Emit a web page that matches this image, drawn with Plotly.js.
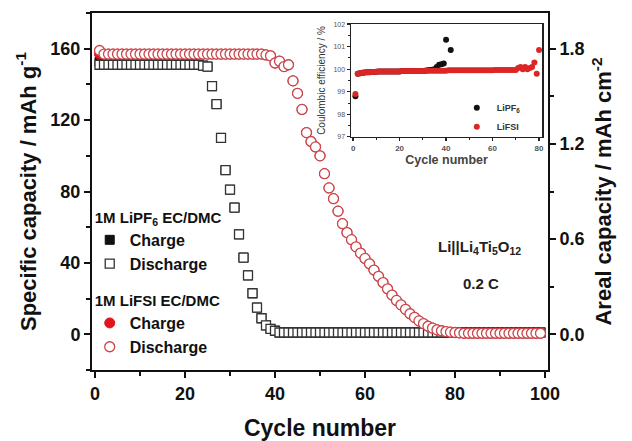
<!DOCTYPE html>
<html>
<head>
<meta charset="utf-8">
<script src="https://cdn.plot.ly/plotly-3.0.1.min.js"></script>
<style>html,body{margin:0;padding:0;background:#fff;}#chart{width:632px;height:441px;}</style>
</head>
<body>
<div id="chart"></div>
<script>
// ---- Main chart data (cycle number vs specific capacity, mAh/g) ----
const cycles = [1,2,3,4,5,6,7,8,9,10,11,12,13,14,15,16,17,18,19,20,21,22,23,24,25,26,27,28,29,30,31,32,33,34,35,36,37,38,39,40,41,42,43,44,45,46,47,48,49,50,51,52,53,54,55,56,57,58,59,60,61,62,63,64,65,66,67,68,69,70,71,72,73,74,75,76,77,78,79,80,81,82,83,84,85,86,87,88,89,90,91,92,93,94,95,96,97,98,99];

const pf6Charge = [152.5,151,151,151,151,151,151,151,151,151,151,151,151,151,151,151,151,151,151,151,151,151,151,150.5,150,139,129,110,92,81,71,56,43,33,23,15,9,5,3,2,1,1,1,1,1,1,1,1,1,1,1,1,1,1,1,1,1,1,1,1,1,1,1,1,1,1,1,1,1,1,1,1,1,1,1,1,1,1,1,1,1,1,1,1,1,1,1,1,1,1,1,1,1,1,1,1,1,1,1];
const pf6Discharge = [151,151,151,151,151,151,151,151,151,151,151,151,151,151,151,151,151,151,151,151,151,151,151,150.5,150,139,129,110,92,81,71,56,43,33,23,15,9,5,3,2,1,1,1,1,1,1,1,1,1,1,1,1,1,1,1,1,1,1,1,1,1,1,1,1,1,1,1,1,1,1,1,1,1,1,1,1,1,1,1,1,1,1,1,1,1,1,1,1,1,1,1,1,1,1,1,1,1,1,1];

const fsiCharge = [157,157,157,157,157,157,157,157,157,157,157,157,157,157,157,157,157,157,157,157,157,157,157,157,157,157,157,157,157,157,157,157,157,157,157,157,157,156.5,156,152,153,150,151,142,135,126,113,108,105,100,90,82,76,69,62,57,53,49,45.5,42.5,39.5,36,32.5,29,25.5,22,19,16.5,14,11.5,9.5,7.5,6,4.5,3.5,2.5,2,1.5,1.2,1,0.8,0.6,0.6,0.6,0.6,0.6,0.6,0.6,0.6,0.6,0.6,0.6,0.6,0.6,0.6,0.6,0.6,0.6,0.6];
const fsiDischarge = [159,157,157,157,157,157,157,157,157,157,157,157,157,157,157,157,157,157,157,157,157,157,157,157,157,157,157,157,157,157,157,157,157,157,157,157,157,156.5,156,152,153,150,151,142,135,126,113,108,105,100,90,82,76,69,62,57,53,49,45.5,42.5,39.5,36,32.5,29,25.5,22,19,16.5,14,11.5,9.5,7.5,6,4.5,3.5,2.5,2,1.5,1.2,1,0.8,0.6,0.6,0.6,0.6,0.6,0.6,0.6,0.6,0.6,0.6,0.6,0.6,0.6,0.6,0.6,0.6,0.6,0.6];

// ---- Inset data (Coulombic efficiency, %) ----
const ceCyclesFsi = [1,2,3,4,5,6,7,8,9,10,11,12,13,14,15,16,17,18,19,20,21,22,23,24,25,26,27,28,29,30,31,32,33,34,35,36,37,38,39,40,41,42,43,44,45,46,47,48,49,50,51,52,53,54,55,56,57,58,59,60,61,62,63,64,65,66,67,68,69,70,71,72,73,74,75,76,77,78,79,80];
const ceFsi = [98.9,99.8,99.82,99.84,99.85,99.87,99.87,99.88,99.88,99.89,99.9,99.9,99.9,99.9,99.9,99.9,99.9,99.9,99.9,99.9,99.92,99.92,99.92,99.92,99.92,99.92,99.92,99.92,99.92,99.92,99.93,99.93,99.93,99.93,99.93,99.93,99.93,99.93,99.93,99.93,99.95,99.95,99.95,99.95,99.95,99.95,99.95,99.95,99.95,99.95,99.95,99.95,99.95,99.95,99.95,99.95,99.95,99.95,99.95,99.95,99.96,99.96,99.96,99.96,99.96,99.96,99.96,99.96,99.96,99.96,100.05,100.1,100.0,100.1,100.0,100.05,100.1,100.3,99.8,100.85];
const ceCyclesPf6 = [1,2,3,4,5,6,7,8,9,10,11,12,13,14,15,16,17,18,19,20,21,22,23,24,25,26,27,28,29,30,31,32,33,34,35,36,37,38,39,40,42];
const cePf6 = [98.8,99.8,99.82,99.84,99.85,99.86,99.87,99.88,99.88,99.89,99.9,99.9,99.9,99.9,99.9,99.9,99.9,99.9,99.9,99.9,99.92,99.92,99.92,99.92,99.92,99.92,99.92,99.92,99.92,99.92,99.93,99.95,99.96,99.98,100.0,100.1,100.2,100.22,100.25,101.3,100.85];

// ---- Tick labels ----
const xTicks = [0,20,40,60,80,100];
const yTicks = [0,40,80,120,160];
const y2Ticks = [0,0.6,1.2,1.8];
const y2TickText = ['0.0','0.6','1.2','1.8'];
const insetXTicks = [0,20,40,60,80];
const insetYTicks = [97,98,99,100,101,102];

const FONT = 'Liberation Sans, Arial, sans-serif';
const RED = '#e3141c';
const REDLINE = '#c9464b';

const traces = [
  {x: cycles, y: pf6Charge, type: 'scatter', mode: 'markers', name: 'Charge',
   legendgroup: 'pf6', legendgrouptitle: {text: '<b>1M LiPF<sub>6</sub> EC/DMC</b>', font: {family: FONT, size: 15, color: '#111'}},
   marker: {symbol: 'square', size: 9, color: '#111', line: {color: '#111', width: 1}}},
  {x: cycles, y: pf6Discharge, type: 'scatter', mode: 'markers', name: 'Discharge',
   legendgroup: 'pf6',
   marker: {symbol: 'square', size: 9, color: '#fff', line: {color: '#333', width: 1.3}}},
  {x: cycles, y: fsiCharge, type: 'scatter', mode: 'markers', name: 'Charge',
   legendgroup: 'fsi', legendgrouptitle: {text: '<b>1M LiFSI EC/DMC</b>', font: {family: FONT, size: 15, color: '#111'}},
   marker: {symbol: 'circle', size: 10, color: RED, line: {color: RED, width: 1}}},
  {x: cycles, y: fsiDischarge, type: 'scatter', mode: 'markers', name: 'Discharge',
   legendgroup: 'fsi',
   marker: {symbol: 'circle', size: 10, color: '#fff', line: {color: REDLINE, width: 1.3}}},
  // invisible trace to activate the right (areal) axis
  {x: [cycles[0]], y: [y2Ticks[0]], yaxis: 'y2', type: 'scatter', mode: 'markers', showlegend: false,
   hoverinfo: 'skip', marker: {opacity: 0}},
  // inset
  {x: ceCyclesPf6, y: cePf6, xaxis: 'x2', yaxis: 'y3', type: 'scatter', mode: 'markers', name: 'LiPF<sub>6</sub>',
   legend: 'legend2', marker: {symbol: 'circle', size: 6, color: '#111'}},
  {x: ceCyclesFsi, y: ceFsi, xaxis: 'x2', yaxis: 'y3', type: 'scatter', mode: 'markers', name: 'LiFSI',
   legend: 'legend2', marker: {symbol: 'circle', size: 6, color: '#dc2626'}}
];

const axisCommon = {showgrid: false, zeroline: false, showline: true, linecolor: '#111', linewidth: 2,
  ticks: 'outside', ticklen: 6, tickwidth: 2, tickcolor: '#111',
  tickfont: {family: FONT, size: 18, color: '#111', weight: 'bold'}};

const layout = {
  width: 632, height: 441,
  margin: {l: 92, r: 84, t: 13, b: 71},
  paper_bgcolor: '#fff', plot_bgcolor: '#fff',
  font: {family: FONT, color: '#111'},
  showlegend: true,
  xaxis: Object.assign({}, axisCommon, {
    range: [-0.67, 100.67], tickvals: xTicks, mirror: true,
    minor: {dtick: 10, tick0: 0, ticks: 'outside', ticklen: 4, tickwidth: 2, tickcolor: '#111'},
    title: {text: '<b>Cycle number</b>', font: {family: FONT, size: 23, color: '#111'}, standoff: 17}
  }),
  yaxis: Object.assign({}, axisCommon, {
    range: [-20, 180], tickvals: yTicks, mirror: true,
    minor: {dtick: 20, tick0: 0, ticks: 'outside', ticklen: 4, tickwidth: 2, tickcolor: '#111'},
    title: {text: '<b>Specific capacity / mAh g<sup>-1</sup></b>', font: {family: FONT, size: 22, color: '#111'}, standoff: 8}
  }),
  yaxis2: Object.assign({}, axisCommon, {
    range: [-0.225, 2.025], tickvals: y2Ticks, ticktext: y2TickText, overlaying: 'y', side: 'right', anchor: 'x',
    minor: {dtick: 0.3, tick0: 0, ticks: 'outside', ticklen: 4, tickwidth: 2, tickcolor: '#111'},
    title: {text: '<b>Areal capacity / mAh cm<sup>-2</sup></b>', font: {family: FONT, size: 22, color: '#111'}, standoff: 12}
  }),
  xaxis2: {
    domain: [0.568, 0.987], anchor: 'y3', range: [-0.9, 81.3], tickvals: insetXTicks,
    showgrid: false, zeroline: false, showline: true, mirror: true, linecolor: '#222', linewidth: 1.5,
    ticks: 'outside', ticklen: 3, tickwidth: 1.2, tickcolor: '#222',
    minor: {dtick: 10, tick0: 0, ticks: 'outside', ticklen: 2, tickwidth: 1, tickcolor: '#222'},
    tickfont: {family: FONT, size: 8, color: '#555', weight: 'bold'},
    title: {text: '<b>Cycle number</b>', font: {family: FONT, size: 12.5, color: '#444'}, standoff: 2}
  },
  yaxis3: {
    domain: [0.653, 0.969], anchor: 'x2', range: [97, 102], tickvals: insetYTicks,
    showgrid: false, zeroline: false, showline: true, mirror: true, linecolor: '#222', linewidth: 1.5,
    ticks: 'outside', ticklen: 3, tickwidth: 1.2, tickcolor: '#222',
    minor: {dtick: 0.5, tick0: 97, ticks: 'outside', ticklen: 2, tickwidth: 1, tickcolor: '#222'},
    tickfont: {family: FONT, size: 7, color: '#555'},
    title: {text: 'Coulombic efficiency / %', font: {family: FONT, size: 10, color: '#333'}, standoff: 6}
  },
  legend: {
    x: -0.005, xanchor: 'left', y: 0.475, yanchor: 'top', bgcolor: 'rgba(0,0,0,0)',
    traceorder: 'grouped', tracegroupgap: 13, itemclick: false,
    font: {family: FONT, size: 16, color: '#111', weight: 'bold'}
  },
  legend2: {
    x: 0.80, xanchor: 'left', y: 0.775, yanchor: 'top', bgcolor: 'rgba(0,0,0,0)',
    font: {family: FONT, size: 9, color: '#333', weight: 'bold'}, itemwidth: 30
  },
  annotations: [
    {x: 85.4, y: 48.9, xref: 'x', yref: 'y', text: '<b>Li||Li<sub>4</sub>Ti<sub>5</sub>O<sub>12</sub></b>', showarrow: false,
     font: {family: FONT, size: 15, color: '#222'}},
    {x: 85.8, y: 28.7, xref: 'x', yref: 'y', text: '<b>0.2 C</b>', showarrow: false,
     font: {family: FONT, size: 15, color: '#222'}}
  ]
};

Plotly.newPlot('chart', traces, layout, {displayModeBar: false, staticPlot: true});
</script>
</body>
</html>
